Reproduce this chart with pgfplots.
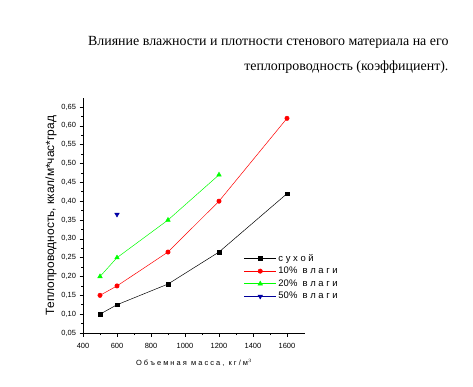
\documentclass[border=0pt]{standalone}
\usepackage{pgfplots}
\pgfplotsset{compat=1.18}
\usepackage{fontspec}
\setmainfont{Liberation Serif}
\newfontfamily\arialf{Liberation Sans}
\begin{document}
\begin{tikzpicture}[x=1bp,y=1bp]
\path[use as bounding box] (0,0) rectangle (473,386);
\node[anchor=east,font=\fontsize{14}{16}\selectfont] at (452,344) {Влияние влажности и плотности стенового материала на его};
\node[anchor=east,font=\fontsize{14}{16}\selectfont] at (452,319) {теплопроводность (коэффициент).};
\begin{axis}[
  at={(83bp,53bp)}, anchor=origin,
  scale only axis, width=222bp, height=235bp,
  xmin=400, xmax=1706, ymin=0.05, ymax=0.674,
  axis lines*=left,
  axis line style={line width=0.8pt, -},
  xtick={400,600,...,1600},
  ytick={0.05,0.10,...,0.66},
  minor x tick num=1, minor y tick num=1,
  tick align=outside,
  major tick length=3.5bp, minor tick length=2bp,
  tick style={black, line width=0.6pt},
  ticklabel style={font=\arialf\fontsize{7.5}{8}\selectfont},
  xticklabel style={yshift=-3bp},
  /pgf/number format/assume math mode=true,
  yticklabel style={/pgf/number format/.cd, fixed, fixed zerofill, precision=2, use comma},
  xticklabel style={/pgf/number format/.cd, fixed, 1000 sep={}},
  scaled y ticks=false,
  xlabel={\arialf\fontsize{7.5}{9}\selectfont О б ъ е м н а я\ \ м а с с а ,\ \ к г / м$^{3}$},
  ylabel={\arialf\fontsize{12}{13}\selectfont Теплопроводность, ккал/м*час*град},
  xlabel style={yshift=-4bp},
  ylabel style={yshift=-2bp},
  legend style={draw=none, fill=none, at={(axis cs:1340,0.268)}, anchor=north west,
    font=\arialf\fontsize{9.5}{11}\selectfont, row sep=0.5bp, inner sep=1pt},
  legend cell align=left,
  legend image code/.code={
    \draw[mark repeat=2,mark phase=2] plot coordinates {(0bp,0bp) (16bp,0bp) (32bp,0bp)};
  },
  every axis plot/.append style={line width=0.5pt, mark size=2bp},
]
\addplot[black, mark=square*, mark size=1.8bp, mark options={fill=black}] coordinates {(500,0.10) (600,0.125) (900,0.18) (1200,0.265) (1600,0.42)};
\addlegendentry{с у х о й}
\addplot[red, mark=*, mark size=2.2bp, mark options={fill=red}] coordinates {(500,0.15) (600,0.175) (900,0.265) (1200,0.40) (1600,0.62)};
\addlegendentry{10\%\ \ в л а г и}
\addplot[green, mark=triangle*, mark size=2.6bp, mark options={fill=green}] coordinates {(500,0.20) (600,0.25) (900,0.35) (1200,0.47)};
\addlegendentry{20\%\ \ в л а г и}
\addplot[blue!60!black, mark=triangle*, mark size=2.6bp, mark options={rotate=180, fill=blue!70!black}] coordinates {(600,0.365)};
\addlegendentry{50\%\ \ в л а г и}
\end{axis}
\end{tikzpicture}
\end{document}
